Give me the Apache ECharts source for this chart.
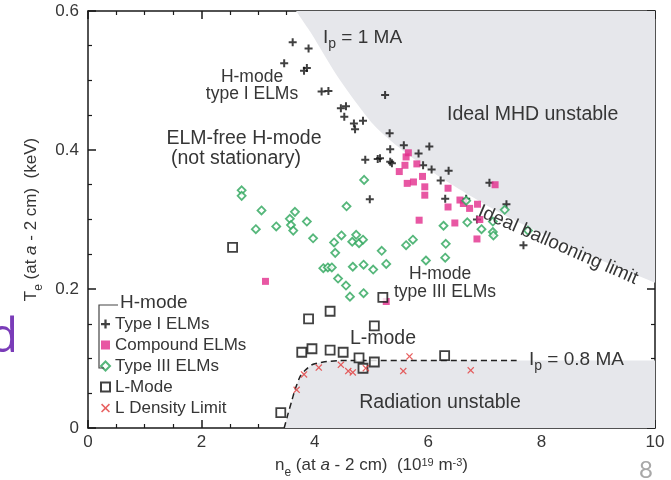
<!DOCTYPE html>
<html>
<head>
<meta charset="utf-8">
<script src="https://cdn.jsdelivr.net/npm/echarts@6.0.0/dist/echarts.min.js"></script>
<style>
html, body { margin: 0; padding: 0; background: #fff; }
#chart { width: 671px; height: 480px; }
</style>
</head>
<body>
<div id="chart"></div>
<script>
// values: [n_e, T_e]
const typeI = [
  [3.61, 0.555], [3.89, 0.546], [3.46, 0.525], [3.81, 0.514], [3.86, 0.518],
  [4.12, 0.484], [4.24, 0.485], [5.24, 0.479], [4.46, 0.460], [4.55, 0.463],
  [4.52, 0.448], [4.69, 0.438], [4.85, 0.442], [4.71, 0.430], [5.32, 0.424],
  [4.89, 0.386], [5.11, 0.387], [5.15, 0.388], [5.33, 0.401], [5.33, 0.383],
  [5.36, 0.381], [5.57, 0.407], [5.83, 0.395], [6.02, 0.405], [5.91, 0.378],
  [6.06, 0.372], [6.36, 0.370], [6.22, 0.356], [7.08, 0.353], [6.30, 0.330],
  [6.67, 0.330], [7.38, 0.322], [6.86, 0.300], [7.68, 0.263], [4.97, 0.329]
];
const compound = [
  [5.65, 0.396], [5.61, 0.390], [5.59, 0.378], [5.80, 0.380], [5.49, 0.369],
  [5.90, 0.362], [5.63, 0.352], [5.74, 0.354], [5.94, 0.347], [5.94, 0.335],
  [6.35, 0.345], [7.18, 0.350], [6.35, 0.318], [6.56, 0.328], [6.62, 0.323],
  [6.73, 0.316], [6.87, 0.322], [6.91, 0.300], [6.47, 0.295], [5.84, 0.299],
  [6.86, 0.272], [5.26, 0.182], [3.13, 0.211]
];
const typeIII = [
  [2.71, 0.342], [2.71, 0.334], [3.06, 0.313], [2.96, 0.286], [3.32, 0.290],
  [3.65, 0.311], [3.56, 0.301], [3.58, 0.292], [3.62, 0.284], [3.86, 0.297],
  [3.97, 0.273], [4.56, 0.319], [4.87, 0.357], [4.47, 0.277], [4.34, 0.267],
  [4.36, 0.252], [4.73, 0.278], [4.66, 0.268], [4.78, 0.266], [4.85, 0.271],
  [5.18, 0.255], [4.15, 0.230], [4.23, 0.231], [4.30, 0.231], [4.67, 0.232],
  [4.86, 0.235], [5.03, 0.228], [5.26, 0.236], [4.41, 0.215], [4.55, 0.205],
  [4.62, 0.189], [4.86, 0.194], [5.61, 0.263], [5.73, 0.271], [5.96, 0.241],
  [6.27, 0.291], [6.31, 0.265], [6.30, 0.245], [6.67, 0.327], [6.69, 0.296],
  [6.94, 0.286], [7.14, 0.297], [7.14, 0.282], [7.15, 0.277], [7.35, 0.314],
  [7.76, 0.284]
];
const lMode = [
  [2.55, 0.260], [5.20, 0.188], [4.27, 0.168], [3.89, 0.157], [5.05, 0.147],
  [3.77, 0.109], [3.95, 0.114], [4.27, 0.112], [4.50, 0.109], [4.78, 0.101],
  [4.85, 0.086], [5.05, 0.095], [6.29, 0.104], [3.40, 0.022]
];
const lDensity = [
  [3.68, 0.055], [3.81, 0.077], [4.07, 0.087], [4.46, 0.091], [4.59, 0.082],
  [4.67, 0.080], [4.90, 0.086], [5.56, 0.082], [5.67, 0.103], [6.75, 0.083]
];
// ideal ballooning limit (gray above) and radiation limit (gray below)
const balloonEdge = [
  [3.67, 0.600], [3.92, 0.570], [4.18, 0.535], [4.44, 0.501], [4.73, 0.468],
  [5.03, 0.437], [5.36, 0.412], [5.77, 0.386], [6.21, 0.361], [6.74, 0.334],
  [7.35, 0.306], [8.06, 0.278], [9.03, 0.242], [10.0, 0.209]
];
const radiationEdge = [
  [3.46, 0.000], [3.53, 0.021], [3.59, 0.038], [3.65, 0.055], [3.74, 0.074],
  [3.83, 0.083], [3.95, 0.091], [4.15, 0.095], [4.44, 0.097], [7.56, 0.097]
];
const radiationEnd = [10.0, 0.097];
const legendNames = ['Type I ELMs', 'Compound ELMs', 'Type III ELMs', 'L-Mode', 'L Density Limit'];

const FONT = '"Liberation Sans", Arial, sans-serif';
const TXT = '#363636';
const GRAY = '#e6e7eb';
const PLUS = 'path://M3,0H5V3H8V5H5V8H3V5H0V3H3Z';
const CROSS = 'path://M0,1L1,0L4,3L7,0L8,1L5,4L8,7L7,8L4,5L1,8L0,7L3,4Z';

const chart = echarts.init(document.getElementById('chart'));

function frameAxis(extra) {
  return Object.assign({
    type: 'value',
    axisLine: { show: true, onZero: false, lineStyle: { color: '#1a1a1a', width: 1.5 } },
    axisTick: { show: true, inside: true, length: 8, lineStyle: { color: '#1a1a1a', width: 1.5 } },
    minorTick: { show: true, splitNumber: 4, length: 4, lineStyle: { color: '#1a1a1a', width: 1.2 } },
    splitLine: { show: false },
    axisLabel: { show: false }
  }, extra);
}

const nameRich = {
  n: { fontSize: 17, lineHeight: 18, verticalAlign: 'top', fontFamily: FONT, color: TXT },
  i: { fontSize: 17, lineHeight: 18, verticalAlign: 'top', fontFamily: FONT, color: TXT, fontStyle: 'italic' },
  s: { fontSize: 12, lineHeight: 12, padding: [10, 0, 0, 0], verticalAlign: 'top', fontFamily: FONT, color: TXT },
  p: { fontSize: 11, lineHeight: 11, verticalAlign: 'top', fontFamily: FONT, color: TXT }
};
const tickLabel = { show: true, fontSize: 17, fontFamily: FONT, color: TXT };

function text(x, y, str, size, extra) {
  return {
    type: 'text', x: x, y: y, silent: true, z: 100,
    style: Object.assign({ text: str, fontSize: size, fontFamily: FONT, fill: TXT, align: 'center', verticalAlign: 'middle' }, extra)
  };
}
const ipRich = {
  n: { fontSize: 19, lineHeight: 20, verticalAlign: 'top', fontFamily: FONT },
  s: { fontSize: 14, lineHeight: 14, padding: [9, 0, 0, 0], verticalAlign: 'top', fontFamily: FONT }
};

chart.setOption({
  animation: false,
  grid: { left: 88, right: 16, top: 11, bottom: 52, outerBoundsMode: 'none' },
  xAxis: [
    frameAxis({
      min: 0, max: 10, interval: 2, position: 'bottom',
      axisLabel: Object.assign({ margin: 6 }, tickLabel),
      name: '{n|n}{s|e}{n| (at }{i|a}{n| - 2 cm)  (10}{p|19}{n| m}{p|-3}{n|)}',
      nameLocation: 'middle', nameGap: 29,
      nameTextStyle: { rich: nameRich }
    }),
    frameAxis({ min: 0, max: 10, interval: 2, position: 'top' })
  ],
  yAxis: [
    frameAxis({
      min: 0, max: 0.6, interval: 0.2, position: 'left',
      axisLabel: Object.assign({ margin: 9 }, tickLabel),
      name: '{n|T}{s|e}{n| (at }{i|a}{n| - 2 cm)  (keV)}',
      nameLocation: 'middle', nameGap: 47,
      nameTextStyle: { rich: nameRich }
    }),
    frameAxis({ min: 0, max: 0.6, interval: 0.2, position: 'right' })
  ],
  legend: {
    data: legendNames,
    orient: 'vertical', left: 100, top: 315, padding: 0,
    itemWidth: 9, itemHeight: 9, itemGap: 3,
    textStyle: { fontSize: 17, lineHeight: 18, fontFamily: FONT, color: TXT }
  },
  series: [
    {
      type: 'line', data: balloonEdge, symbol: 'none', smooth: 0.3, silent: true, z: 1,
      lineStyle: { width: 0 }, areaStyle: { color: GRAY, opacity: 1, origin: 'end' }
    },
    {
      type: 'line', data: radiationEdge.concat([radiationEnd]), symbol: 'none', smooth: 0.2, silent: true, z: 1,
      lineStyle: { width: 0 }, areaStyle: { color: GRAY, opacity: 1, origin: 'start' }
    },
    {
      type: 'line', data: radiationEdge, symbol: 'none', smooth: 0.2, silent: true, z: 2,
      lineStyle: { color: '#222', width: 1.5, type: [6, 4] }
    },
    {
      name: 'Type I ELMs', type: 'scatter', data: typeI, symbol: PLUS, symbolSize: 8, z: 3,
      itemStyle: { color: '#111' }
    },
    {
      name: 'Compound ELMs', type: 'scatter', data: compound, symbol: 'rect', symbolSize: 7, z: 3,
      itemStyle: { color: '#e22d8c' }
    },
    {
      name: 'Type III ELMs', type: 'scatter', data: typeIII, symbol: 'diamond', symbolSize: 8, z: 3,
      itemStyle: { color: '#fff', borderColor: '#2ca55a', borderWidth: 1.8 }
    },
    {
      name: 'L-Mode', type: 'scatter', data: lMode, symbol: 'rect', symbolSize: 9, z: 3,
      itemStyle: { color: '#fff', borderColor: '#111', borderWidth: 1.8 }
    },
    {
      name: 'L Density Limit', type: 'scatter', data: lDensity, symbol: CROSS, symbolSize: 7, z: 3,
      itemStyle: { color: '#e23a3a' }
    }
  ],
  graphic: [
    { type: 'text', x: 323, y: 28, silent: true, z: 100,
      style: { text: '{n|I}{s|p}{n| = 1 MA}', rich: ipRich, fill: TXT, fontFamily: FONT, fontSize: 19, align: 'left', verticalAlign: 'top' } },
    { type: 'text', x: 529, y: 350, silent: true, z: 100,
      style: { text: '{n|I}{s|p}{n| = 0.8 MA}', rich: ipRich, fill: TXT, fontFamily: FONT, fontSize: 19, align: 'left', verticalAlign: 'top' } },
    text(252, 77, 'H-mode', 17.5),
    text(252, 94, 'type I ELMs', 17.5),
    text(244, 139, 'ELM-free H-mode', 19.5),
    text(236, 159, '(not stationary)', 19.5),
    text(447, 115, 'Ideal MHD unstable', 19.5, { align: 'left' }),
    Object.assign(text(558, 245, 'Ideal ballooning limit', 19), { rotation: -0.412 }),
    text(440, 274, 'H-mode', 17.5),
    text(445, 292, 'type III ELMs', 17.5),
    text(383, 339, 'L-mode', 19.5),
    text(440, 403, 'Radiation unstable', 19.5),
    text(120, 303, 'H-mode', 19, { align: 'left' }),
    { type: 'polyline', silent: true, z: 100,
      shape: { points: [[118, 305], [99, 305], [99, 368], [104, 368]] },
      style: { stroke: '#444', lineWidth: 1.2, fill: null } },
    text(18, 338, 'd', 48, { align: 'right', fill: '#7a3cb8', fontFamily: '"Open Sans", sans-serif' }),
    text(646, 470, '8', 24, { fill: '#a8a8a8', fontFamily: 'Lato, sans-serif' })
  ]
});
</script>
</body>
</html>
